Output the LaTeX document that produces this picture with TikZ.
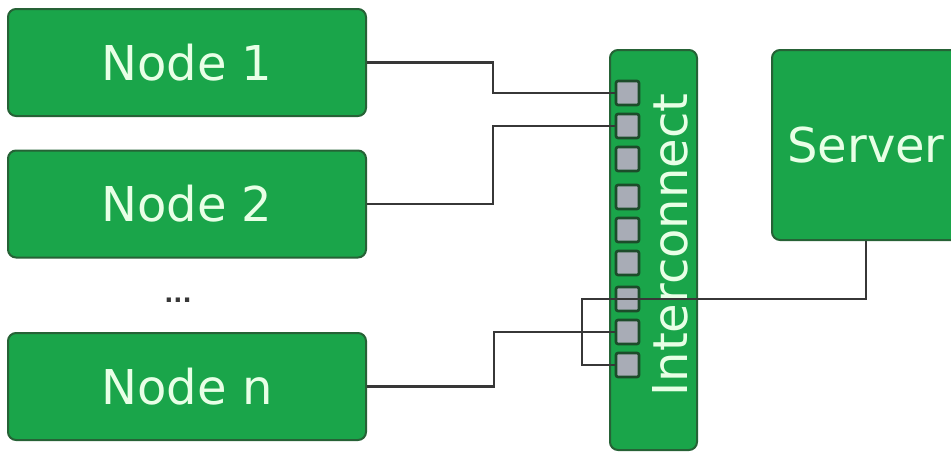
\documentclass[tikz,border=0pt]{standalone}
\usepackage{fontspec}
\setmainfont{DejaVu Sans}
\definecolor{boxgreen}{RGB}{26,165,74}
\definecolor{boxedge}{RGB}{38,98,54}
\definecolor{boxtext}{RGB}{232,255,230}
\definecolor{portfill}{RGB}{168,172,182}
\definecolor{portedge}{RGB}{28,76,42}
\definecolor{wire}{RGB}{55,55,55}
\tikzset{
  unit/.style={draw=boxedge, line width=2pt, fill=boxgreen, rounded corners=8pt,
    text=boxtext, font=\fontsize{48}{56}\selectfont, inner sep=0pt},
  hostbox/.style={unit, minimum width=358pt, minimum height=107pt},
  port/.style={draw=portedge, line width=2.6pt, fill=portfill, rounded corners=2pt,
    minimum width=23pt, minimum height=24pt, inner sep=0pt},
  wireline/.style={draw=wire, line width=2.6pt}
}
\begin{document}
\begin{tikzpicture}[x=1pt,y=-1pt]
\useasboundingbox (0,0) rectangle (951,453);

% compute nodes
\node[hostbox] (n1) at (187,62.5) {Node 1};
\node[hostbox] (n2) at (187,204) {Node 2};
\node[hostbox] (nn) at (187,386.5) {Node n};
\node[text=wire, font=\fontsize{24}{26}\selectfont\bfseries, inner sep=0pt] (dots) at (178,300) {...};

% server, running off the right edge
\node[unit, minimum width=188pt, minimum height=190pt] (srv) at (866,145) {Server};

% interconnect switch with its ports
\node[unit, minimum width=87pt, minimum height=400pt] (ic) at (653.5,250) {};
\node[text=boxtext, font=\fontsize{48}{56}\selectfont, inner sep=0pt, rotate=90] (icl) at (670,245) {Interconnect};
\foreach \i/\y in {1/93,2/126,3/159,4/197,5/230,6/263,7/299,8/332,9/365}
  \node[port] (p\i) at (627.5,\y) {};

% routing points
\coordinate (j1) at (493,93);
\coordinate (j2) at (493,126);
\coordinate (j8) at (494,332);
\coordinate (k1) at (582,299);

% links
\draw[wireline] (n1.east) -| (j1) -- (p1.west);
\draw[wireline] (n2.east) -| (j2) -- (p2.west);
\draw[wireline] (nn.east) -| (j8) -- (p8.west);
\draw[wireline] (srv.south) |- (k1) |- (p9.west);
\end{tikzpicture}
\end{document}
